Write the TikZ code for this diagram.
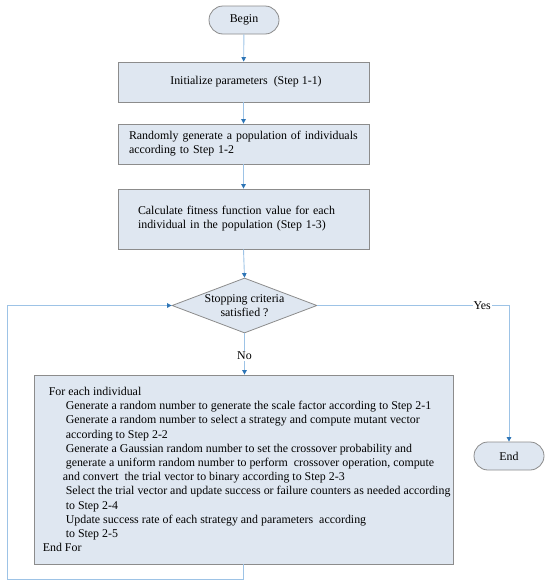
\documentclass[tikz,border=0pt]{standalone}
\usepackage{fontspec}
\setmainfont{Liberation Serif}
\usetikzlibrary{arrows.meta,shapes.geometric}
\definecolor{boxfill}{HTML}{DFE7F1}
\definecolor{boxline}{HTML}{8C8C8C}
\definecolor{conn}{HTML}{9DC3E6}
\definecolor{tipblue}{HTML}{2E75B6}
\tikzset{
  procbox/.style={draw=boxline, fill=boxfill, line width=0.8pt, minimum width=251pt, inner ysep=0pt},
  termbox/.style={draw=boxline, fill=boxfill, line width=0.8pt, rounded corners=14pt, minimum width=70pt, minimum height=28pt, inner sep=0pt},
  decbox/.style={diamond, draw=boxline, fill=boxfill, line width=0.8pt, aspect=2.64, minimum width=145pt, minimum height=55pt, inner sep=0pt, align=center},
  conline/.style={draw=conn, line width=0.9pt, -{Triangle[length=4.5pt,width=4.5pt,color=tipblue]}},
  lbl/.style={fill=white, inner sep=1pt}
}
\begin{document}
\begin{tikzpicture}[x=1pt,y=-1pt, font=\fontsize{11.9}{14}\selectfont]
\useasboundingbox (0,0) rectangle (550,584);
\node[termbox] (begin) at (244,20) {Begin};
\node[procbox, minimum height=40pt] (init) at (243.5,82) {\hspace*{5pt}Initialize parameters\ \ (Step 1-1)};
\node[procbox, minimum height=40pt, text width=229pt, inner xsep=11pt, align=left] (rand) at (243.5,144) {Randomly generate a population of individuals\\according to Step 1-2};
\node[procbox, minimum height=60pt, text width=211pt, inner xsep=20pt, align=left] (fit) at (243.5,219) {Calculate fitness function value for each\\individual in the population (Step 1-3)};
\node[decbox] (stop) at (244.5,305.5) {Stopping criteria\\satisfied ?};
\node[draw=boxline, fill=boxfill, line width=0.8pt, minimum width=419pt, minimum height=189pt] (loop) at (243.5,469.5) {};
\node[anchor=west, align=left, inner sep=0pt, font=\fontsize{11.9}{14.2}\selectfont] (looptext) at ([xshift=9pt]loop.west) {%
\hspace*{6pt}For each individual\\
\hspace*{23pt}Generate a random number to generate the scale factor according to Step 2-1\\
\hspace*{23pt}Generate a random number to select a strategy and compute mutant vector\\
\hspace*{23pt}according to Step 2-2\\
\hspace*{23pt}Generate a Gaussian random number to set the crossover probability and\\
\hspace*{23pt}generate a uniform random number to perform\ \ crossover operation, compute\\
\hspace*{20pt}and convert\ \ the trial vector to binary according to Step 2-3\\
\hspace*{23pt}Select the trial vector and update success or failure counters as needed according\\
\hspace*{23pt}to Step 2-4\\
\hspace*{23pt}Update success rate of each strategy and parameters\ \ according\\
\hspace*{23pt}to Step 2-5\\
End For};
\node[termbox] (end) at (509,456) {End};
\coordinate (yescorner) at (509,305.5);
\coordinate (bl) at (243.5,579);
\coordinate (bll) at (7,579);
\coordinate (tll) at (7,305.5);
\draw[conline] (begin) -- (init);
\draw[conline] (init) -- (rand);
\draw[conline] (rand) -- (fit);
\draw[conline] (fit.south) -- (stop.north);
\draw[conline] (stop.south) -- node[lbl, pos=0.55] (nolbl) {No} (stop.south |- loop.north);
\draw[conline] (stop.east) -- node[lbl, pos=0.86] (yeslbl) {Yes} (yescorner) -- (end.north);
\draw[conline] (loop.south) -- (bl) -- (bll) -- (tll) -- (stop.west);
\end{tikzpicture}
\end{document}
